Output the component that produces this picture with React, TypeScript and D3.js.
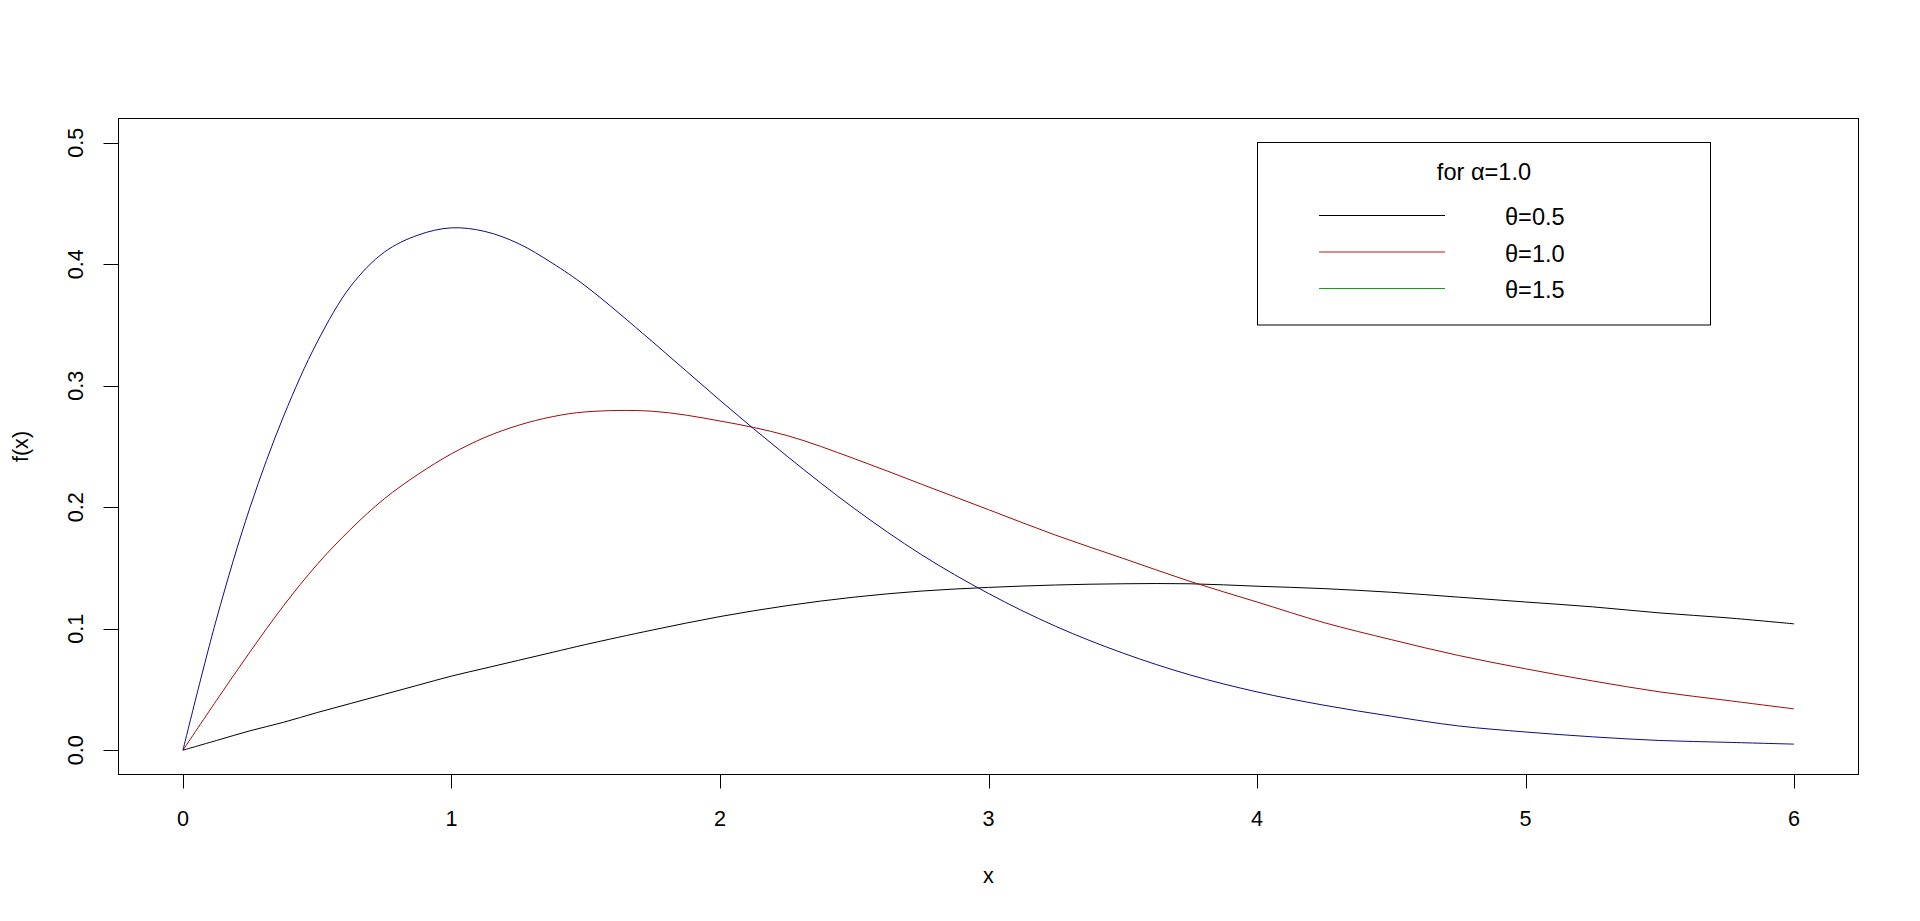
import React from 'react';
import * as d3 from 'd3';

// values
const xs = [0, 0.125, 0.25, 0.375, 0.5, 0.625, 0.75, 0.875, 1, 1.125, 1.25, 1.375, 1.5, 1.75, 2, 2.25, 2.5, 2.75, 3, 3.25, 3.5, 3.75, 4, 4.25, 4.5, 4.75, 5, 5.25, 5.5, 5.75, 6];
const theta05 = [0, 0.008, 0.016, 0.023, 0.031, 0.0385, 0.046, 0.0535, 0.061, 0.0675, 0.074, 0.0805, 0.087, 0.099, 0.110, 0.119, 0.126, 0.131, 0.134, 0.136, 0.137, 0.137, 0.135, 0.133, 0.130, 0.126, 0.122, 0.118, 0.113, 0.109, 0.104];
const theta10 = [0, 0.041, 0.081, 0.119, 0.153, 0.182, 0.207, 0.227, 0.244, 0.2575, 0.2675, 0.2745, 0.2785, 0.279, 0.271, 0.259, 0.240, 0.219, 0.198, 0.177, 0.158, 0.139, 0.122, 0.105, 0.091, 0.078, 0.067, 0.057, 0.048, 0.041, 0.034];
const theta15 = [0, 0.108, 0.200, 0.275, 0.336, 0.382, 0.410, 0.424, 0.430, 0.427, 0.417, 0.401, 0.382, 0.336, 0.288, 0.242, 0.199, 0.161, 0.129, 0.102, 0.080, 0.062, 0.048, 0.037, 0.028, 0.020, 0.015, 0.011, 0.008, 0.0065, 0.005];

const xTicks = [0, 1, 2, 3, 4, 5, 6];
const yTicks = [0, 0.1, 0.2, 0.3, 0.4, 0.5];
const curveColors = ['#000000', '#a00a0a', '#0c0c84'];
const legendTitle = 'for α=1.0';
const legendLabels = ['θ=0.5', 'θ=1.0', 'θ=1.5'];
const legendColors = ['#000000', '#c81414', '#14a014'];

const W = 1920;
const H = 921;
const font = '"Liberation Sans", Arial, sans-serif';

const App = () => {
  const x = d3.scaleLinear().domain([-0.24, 6.24]).range([118.5, 1858.5]);
  const y = d3.scaleLinear().domain([-0.02, 0.52]).range([774.5, 118.5]);

  const line = d3
    .line<[number, number]>()
    .x(d => x(d[0]))
    .y(d => y(d[1]))
    .curve(d3.curveCatmullRom.alpha(0.5));

  const series = [theta05, theta10, theta15].map(vals => xs.map((v, i) => [v, vals[i]] as [number, number]));

  const lx = 1257.5, ly = 142.5, lw = 453, lh = 182.5;

  return (
    <svg width={W} height={H} style={{position: 'absolute', left: 0, top: 0, background: '#fff'}} fontFamily={font}>
      <rect x={0} y={0} width={W} height={H} fill="#fff" />
      {/* plot box */}
      <rect x={x.range()[0]} y={y.range()[1]} width={x.range()[1] - x.range()[0]} height={y.range()[0] - y.range()[1]} fill="none" stroke="#000" strokeWidth={1} />

      {/* x axis */}
      {xTicks.map(t => (
        <g key={'x' + t}>
          <line x1={Math.round(x(t)) + 0.5} x2={Math.round(x(t)) + 0.5} y1={774.5} y2={788.5} stroke="#000" />
          <text x={x(t)} y={825.5} textAnchor="middle" fontSize={21.6}>{t}</text>
        </g>
      ))}
      <text x={988.5} y={883} textAnchor="middle" fontSize={21.6}>x</text>

      {/* y axis */}
      {yTicks.map(t => (
        <g key={'y' + t}>
          <line x1={103.5} x2={118.5} y1={Math.round(y(t)) + 0.5} y2={Math.round(y(t)) + 0.5} stroke="#000" />
          <text x={83.5} y={y(t)} transform={`rotate(-90 83.5 ${y(t)})`} textAnchor="middle" fontSize={21.6}>{d3.format('.1f')(t)}</text>
        </g>
      ))}
      <text x={27.5} y={446.5} transform="rotate(-90 27.5 446.5)" textAnchor="middle" fontSize={21.6}>f(x)</text>

      {/* curves */}
      {series.map((s, i) => (
        <path key={'c' + i} d={line(s) || ''} fill="none" stroke={curveColors[i]} strokeWidth={1} />
      ))}

      {/* legend */}
      <rect x={lx} y={ly} width={lw} height={lh} fill="#fff" stroke="#000" strokeWidth={1} />
      <text x={lx + lw / 2} y={179.5} textAnchor="middle" fontSize={23.6}>{legendTitle}</text>
      {legendLabels.map((lab, i) => (
        <g key={'l' + i}>
          <line x1={1319} x2={1445} y1={215.5 + i * 36.5} y2={215.5 + i * 36.5} stroke={legendColors[i]} strokeWidth={1} />
          <text x={1505} y={225 + i * 36.5} fontSize={23.6}>{lab}</text>
        </g>
      ))}
    </svg>
  );
};

export default App;
